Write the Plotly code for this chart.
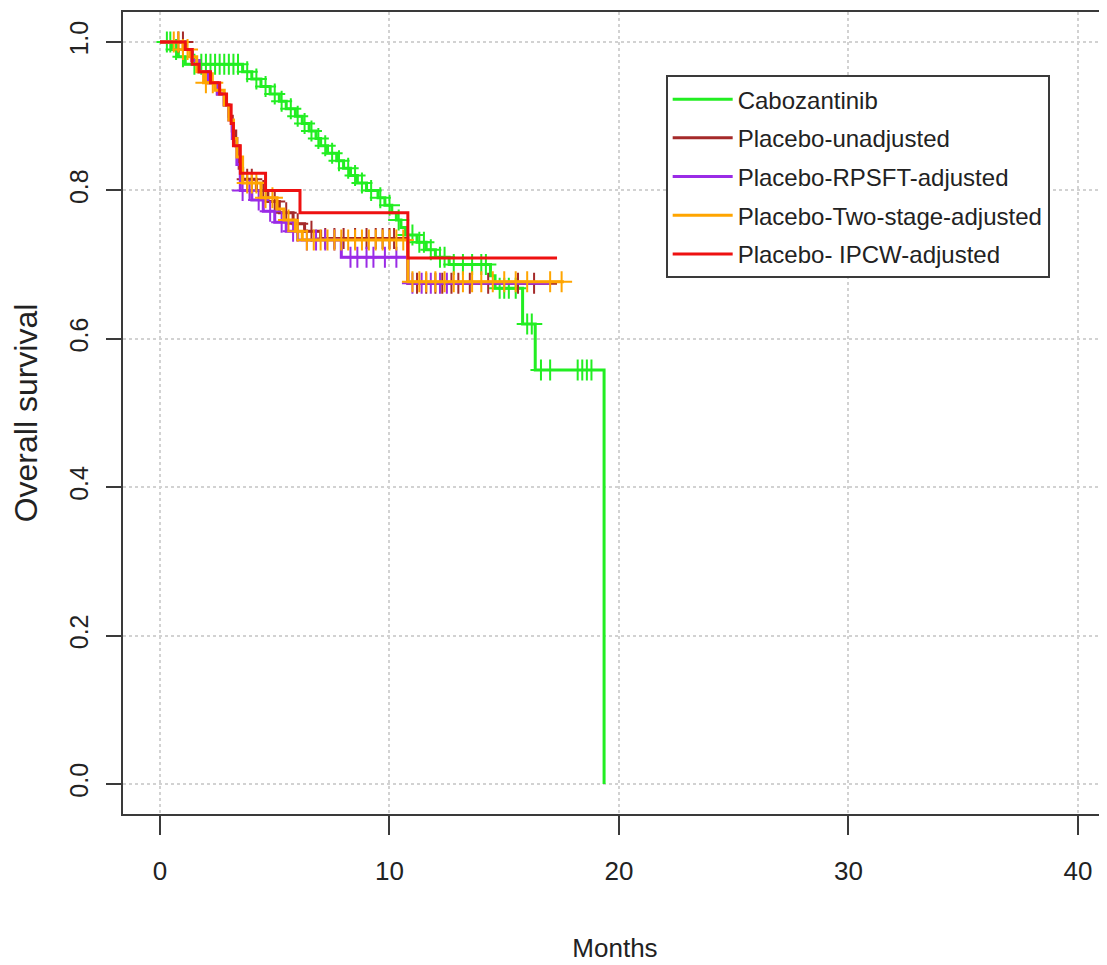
import numpy as np
import plotly.graph_objects as go

# ---------------- data ----------------
series_names = ["Cabozantinib", "Placebo-unadjusted", "Placebo-RPSFT-adjusted",
                "Placebo-Two-stage-adjusted", "Placebo- IPCW-adjusted"]
series_colors = ["#22EE22", "#A52A2A", "#9A2BE6", "#FFA500", "#EE1111"]

# Cabozantinib
cabo_times = [0, 0.5, 0.8, 1.1, 3.6, 4.0, 4.4, 4.8, 5.2, 5.5, 5.9, 6.2, 6.5, 6.8, 7.0, 7.3,
              7.7, 8.0, 8.3, 8.6, 9.0, 9.5, 9.8, 10.1, 10.3, 10.5, 10.7, 11.2, 11.6, 12.0,
              12.6, 14.4, 14.6, 15.8, 16.35, 19.35]
cabo_surv = [1.0, 0.99, 0.98, 0.97, 0.96, 0.95, 0.94, 0.93, 0.92, 0.91, 0.90, 0.89, 0.88,
             0.87, 0.86, 0.85, 0.84, 0.83, 0.82, 0.81, 0.80, 0.79, 0.78, 0.77, 0.76, 0.75,
             0.74, 0.73, 0.72, 0.71, 0.70, 0.685, 0.668, 0.62, 0.558, 0.0]
cabo_censor = [0.3, 0.45, 0.7, 1.0, 1.5, 1.8, 2.0, 2.2, 2.4, 2.6, 2.8, 3.0, 3.2, 3.4, 3.8,
               4.2, 4.6, 5.0, 5.3, 5.7, 6.0, 6.3, 6.6, 6.9, 7.2, 7.5, 7.8, 8.2, 8.5, 8.8,
               9.2, 9.6, 10.0, 10.4, 10.8, 11.0, 11.3, 11.5, 11.8, 12.2, 12.4, 12.8, 13.2,
               13.6, 14.0, 14.2, 14.8, 15.0, 15.2, 15.5, 16.0, 16.2, 16.6, 17.0, 18.2,
               18.4, 18.6, 18.8]

# Placebo-unadjusted
unadj_times = [0, 1.1, 1.4, 1.7, 2.1, 2.5, 2.8, 3.0, 3.15, 3.3, 3.45, 3.6, 4.2, 4.7, 5.2,
               5.8, 6.3, 7.0, 10.8, 17.3]
unadj_surv = [1.0, 0.99, 0.975, 0.96, 0.945, 0.93, 0.915, 0.90, 0.88, 0.86, 0.83, 0.815,
              0.80, 0.785, 0.77, 0.755, 0.745, 0.735, 0.675, 0.675]
unadj_censor = [0.8, 1.0, 3.8, 4.0, 4.5, 5.0, 5.5, 6.0, 6.6, 7.2, 7.6, 8.0, 8.5, 9.0, 9.4,
                9.7, 10.0, 10.2, 11.2, 11.6, 12.0, 12.3, 12.7, 13.0, 13.5, 14.3, 15.6, 16.3]

# Placebo-RPSFT-adjusted
rpsft_times = [0, 1.1, 1.4, 1.7, 2.1, 2.5, 2.8, 3.0, 3.15, 3.35, 3.5, 4.0, 4.5, 5.0, 5.5,
               6.0, 7.9, 10.8, 17.0]
rpsft_surv = [1.0, 0.99, 0.975, 0.96, 0.945, 0.93, 0.915, 0.895, 0.87, 0.835, 0.80, 0.787,
              0.772, 0.757, 0.745, 0.733, 0.71, 0.675, 0.675]
rpsft_censor = [3.6, 3.9, 4.3, 4.8, 5.3, 5.8, 6.4, 6.8, 7.2, 7.6, 8.3, 8.6, 9.0, 9.3, 9.8,
                10.3, 11.0, 11.4, 11.8, 12.2, 12.5]

# Placebo-Two-stage-adjusted
twostage_times = [0, 1.0, 1.3, 1.6, 1.9, 2.4, 2.8, 3.0, 3.2, 3.35, 3.6, 4.4, 5.1, 5.4, 5.9,
                  6.2, 10.8, 17.6]
twostage_surv = [1.0, 0.99, 0.98, 0.96, 0.945, 0.935, 0.915, 0.895, 0.87, 0.845, 0.81, 0.79,
                 0.775, 0.76, 0.745, 0.733, 0.677, 0.677]
twostage_censor = [0.6, 0.8, 1.0, 1.2, 2.0, 2.3, 3.8, 4.0, 4.2, 4.6, 4.9, 5.6, 6.0, 6.4,
                   6.7, 7.0, 7.3, 7.6, 7.9, 8.2, 8.5, 8.8, 9.1, 9.4, 9.7, 10.0, 10.3, 10.6,
                   11.0, 11.3, 11.6, 12.0, 12.4, 12.8, 13.2, 13.6, 14.0, 14.5, 15.0, 15.5,
                   16.0, 17.0, 17.5]

# Placebo-IPCW-adjusted
ipcw_times = [0, 1.1, 1.4, 1.7, 2.2, 2.6, 2.9, 3.1, 3.2, 3.5, 4.6, 6.1, 10.8, 17.3]
ipcw_surv = [1.0, 0.99, 0.97, 0.96, 0.945, 0.93, 0.915, 0.89, 0.86, 0.823, 0.80, 0.77,
             0.709, 0.709]
ipcw_censor = []

x_ticks = [0, 10, 20, 30, 40]
y_ticks = [0.0, 0.2, 0.4, 0.6, 0.8, 1.0]
y_tick_labels = ["0.0", "0.2", "0.4", "0.6", "0.8", "1.0"]

# ---------------- figure ----------------
FONT = "Liberation Sans, Arial, sans-serif"
TXT = "#222222"
AX = "#3a3a3a"

curves = [
    (cabo_times, cabo_surv, cabo_censor),
    (unadj_times, unadj_surv, unadj_censor),
    (rpsft_times, rpsft_surv, rpsft_censor),
    (twostage_times, twostage_surv, twostage_censor),
    (ipcw_times, ipcw_surv, ipcw_censor),
]


def surv_at(times, surv, t):
    idx = int(np.searchsorted(np.asarray(times), t, side="right")) - 1
    return surv[max(idx, 0)]


fig = go.Figure()
for name, color, (times, surv, cens) in zip(series_names, series_colors, curves):
    fig.add_trace(go.Scatter(
        x=times, y=surv, mode="lines", name=name, legendgroup=name,
        line=dict(color=color, width=3, shape="hv"),
        hoverinfo="skip"))
    if cens:
        fig.add_trace(go.Scatter(
            x=cens, y=[surv_at(times, surv, t) for t in cens], mode="markers",
            name=name, legendgroup=name, showlegend=False,
            marker=dict(symbol="cross-thin", size=15, color=color,
                        line=dict(color=color, width=2))))

# page has an 8px body margin; figure is sized/offset to compensate
fig.update_layout(
    width=1099, height=957,
    margin=dict(l=115, r=0, t=4, b=151),
    paper_bgcolor="white", plot_bgcolor="white",
    font=dict(family=FONT, color=TXT, size=24),
    showlegend=True,
    legend=dict(
        x=0.5515, y=0.9214, xanchor="left", yanchor="top",
        bgcolor="white", bordercolor=AX, borderwidth=2,
        font=dict(family=FONT, size=24, color=TXT),
        itemwidth=60, tracegroupgap=4.5,
    ),
    xaxis=dict(
        range=[-1.612, 41.264], tickvals=x_ticks,
        ticks="outside", ticklen=19, tickwidth=2, tickcolor=AX,
        tickfont=dict(family=FONT, size=26, color=TXT),
        ticklabelstandoff=14,
        showline=True, linewidth=2, linecolor=AX, mirror=True,
        showgrid=True, gridcolor="#d2d2d2", gridwidth=1.5, griddash="dot",
        zeroline=False,
        title=dict(text="Months", font=dict(family=FONT, size=26, color=TXT),
                   standoff=54),
    ),
    yaxis=dict(
        range=[-0.0404, 1.0404], tickvals=y_ticks, ticktext=y_tick_labels,
        tickangle=-90,
        ticks="outside", ticklen=15, tickwidth=2, tickcolor=AX,
        tickfont=dict(family=FONT, size=25, color=TXT),
        ticklabelstandoff=8,
        showline=True, linewidth=2, linecolor=AX, mirror=False,
        showgrid=True, gridcolor="#d2d2d2", gridwidth=1.5, griddash="dot",
        zeroline=False,
        title=dict(text="Overall survival", font=dict(family=FONT, size=32, color=TXT),
                   standoff=20),
    ),
)

fig.write_html("out.html")
